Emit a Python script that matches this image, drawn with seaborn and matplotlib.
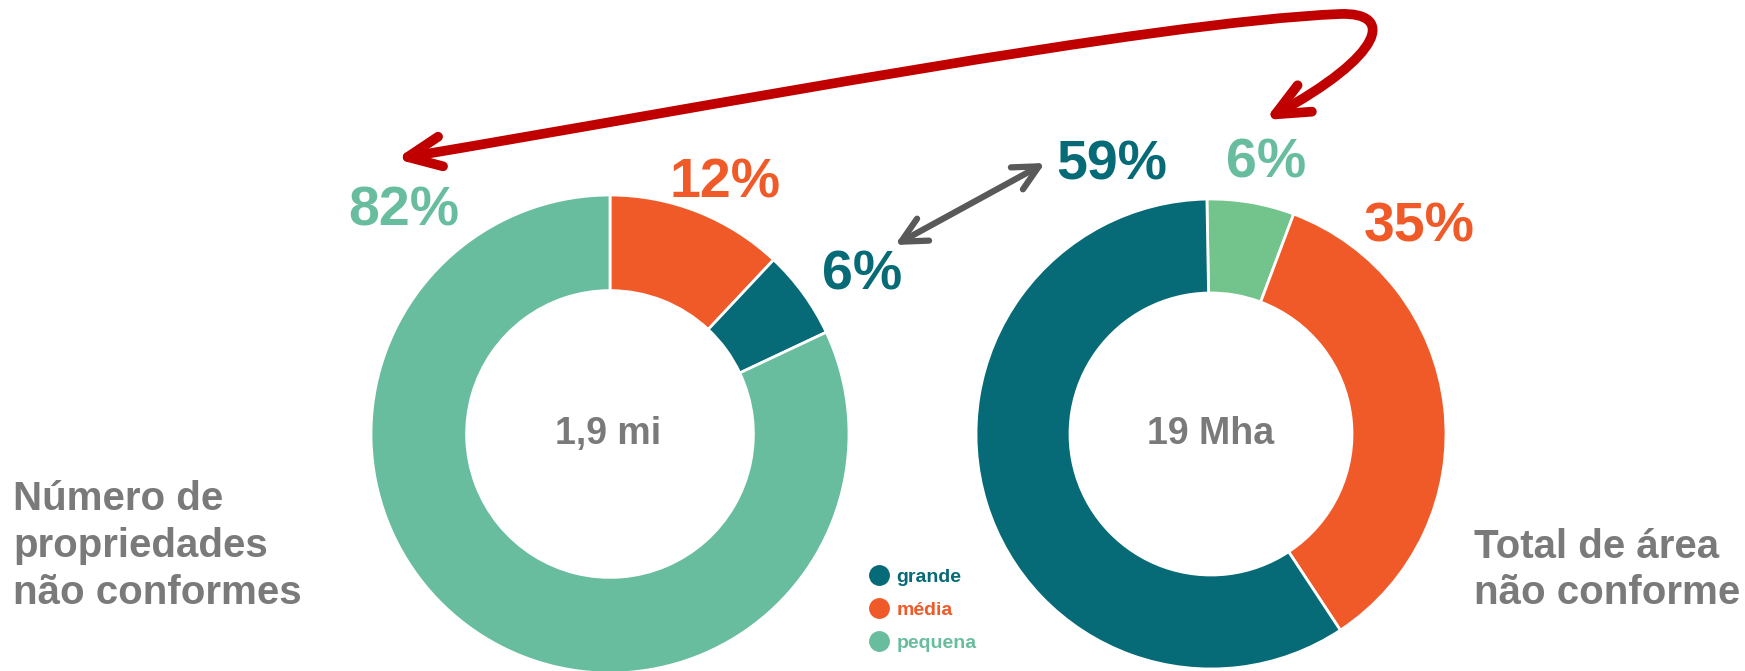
import matplotlib
matplotlib.use("Agg")
import matplotlib.pyplot as plt
import seaborn as sns
from matplotlib.patches import FancyArrowPatch
from matplotlib.path import Path
from matplotlib.lines import Line2D

# data
categories = ["grande", "média", "pequena"]
colors = {"grande": "#066a77", "média": "#f05a28", "pequena": "#69bd9f"}
right_green = "#72c48c"

count_order = ["média", "grande", "pequena"]
count_pct = [12, 6, 82]
count_center = "1,9 mi"

area_order = ["pequena", "média", "grande"]
area_pct = [6, 35, 59]
area_center = "19 Mha"

sns.set_theme(style="white")
plt.rcParams["font.family"] = ["Liberation Sans", "DejaVu Sans"]

W, H = 1745, 671
fig = plt.figure(figsize=(W / 100, H / 100), dpi=100)
ax = fig.add_axes([0, 0, 1, 1])


def Y(y):
    return H - y


gray = "#7a7a7a"

# left donut: number of properties
ax.pie(count_pct, colors=[colors[c] for c in count_order], startangle=90,
       counterclock=False, center=(610, Y(434)), radius=239,
       wedgeprops=dict(width=239 * 0.4, edgecolor="white", linewidth=2))
# right donut: area
area_cols = [right_green if c == "pequena" else colors[c] for c in area_order]
ax.pie(area_pct, colors=area_cols, startangle=91,
       counterclock=False, center=(1211, Y(434)), radius=235,
       wedgeprops=dict(width=235 * 0.4, edgecolor="white", linewidth=2))

ax.set_xlim(0, W)
ax.set_ylim(0, H)
ax.set_aspect("auto")
ax.axis("off")

# percentage labels
lab = dict(fontsize=40, fontweight="bold", ha="center", va="center")
ax.text(404, Y(211), f"{count_pct[2]}%", color=colors["pequena"], **lab)
ax.text(725, Y(183), f"{count_pct[0]}%", color=colors["média"], **lab)
ax.text(862, Y(276), f"{count_pct[1]}%", color=colors["grande"], **lab)
ax.text(1112, Y(165), f"{area_pct[2]}%", color=colors["grande"], **lab)
ax.text(1266, Y(164), f"{area_pct[0]}%", color=colors["pequena"], **lab)
ax.text(1419, Y(227), f"{area_pct[1]}%", color=colors["média"], **lab)

# centre labels
ax.text(608, Y(434), count_center, fontsize=27, fontweight="bold", color=gray,
        ha="center", va="center")
ax.text(1211, Y(434), area_center, fontsize=27, fontweight="bold", color=gray,
        ha="center", va="center")

# side titles
ax.text(13, Y(546), "Número de\npropriedades\nnão conformes", fontsize=29,
        fontweight="bold", color=gray, ha="left", va="center", linespacing=1.3)
ax.text(1474, Y(570), "Total de área\nnão conforme", fontsize=29,
        fontweight="bold", color=gray, ha="left", va="center", linespacing=1.3)

# legend
handles = [Line2D([], [], marker="o", linestyle="", markersize=14,
                  color=colors[c]) for c in categories]
leg = ax.legend(handles, categories, loc="upper left",
                bbox_to_anchor=(869 / W, 1 - 568 / H), bbox_transform=fig.transFigure,
                frameon=False, handlelength=1, handletextpad=0.4,
                labelspacing=0.8, borderpad=0, borderaxespad=0,
                labelcolor=[colors[c] for c in categories],
                prop=dict(weight="bold", size=14))

# red curved double arrow
verts = [(396, 159), (700, 108), (1150, 22), (1340, 14),
         (1395, 12), (1385, 55), (1265, 120)]
verts = [(x, Y(y)) for x, y in verts]
codes = [Path.MOVETO, Path.CURVE4, Path.CURVE4, Path.CURVE4,
         Path.CURVE4, Path.CURVE4, Path.CURVE4]
red = FancyArrowPatch(path=Path(verts, codes),
                      arrowstyle="<->,head_length=0.6,head_width=0.27",
                      mutation_scale=40, color="#c00000", lw=7,
                      transform=ax.transData, capstyle="round", joinstyle="round")
ax.add_patch(red)

# gray double arrow
ax.annotate("", xy=(1045, Y(163)), xytext=(895, Y(245)),
            arrowprops=dict(arrowstyle="<->,head_length=0.6,head_width=0.3",
                            mutation_scale=30, color="#595959", lw=4.5,
                            capstyle="round", joinstyle="round",
                            shrinkA=0, shrinkB=0))

fig.savefig("out.png", dpi=100)
